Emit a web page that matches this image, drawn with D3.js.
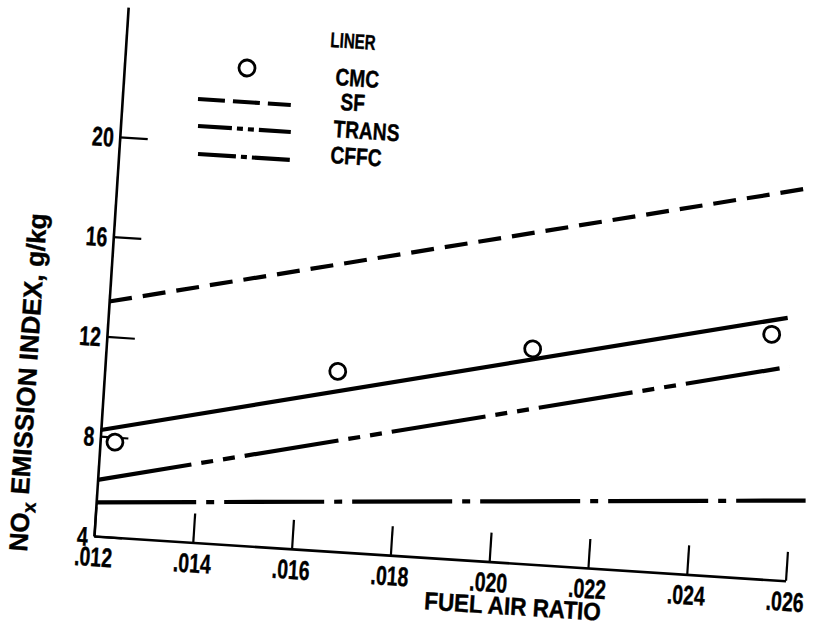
<!DOCTYPE html>
<html>
<head>
<meta charset="utf-8">
<script src="https://cdn.jsdelivr.net/npm/d3@7"></script>
<style>
  body { margin: 0; background: #fff; }
  svg text { font-family: "Liberation Sans", Arial, sans-serif; font-weight: bold; fill: #000; stroke: #000; stroke-width: 0.4; }
</style>
</head>
<body>
<svg id="chart" width="817" height="627"></svg>
<script>
// values
var xTicks = [0.012, 0.014, 0.016, 0.018, 0.020, 0.022, 0.024, 0.026];
var yTicks = [4, 8, 12, 16, 20];

// CMC liner points
var cmcX = [0.0123, 0.0167, 0.0206, 0.0254];
var cmcY = [7.8, 11.2, 12.6, 13.8];

// straight lines, two end points each
var fitX = [0.012, 0.0257];
var fitY = [8.25, 14.5];
var sfX = [0.012, 0.0259];
var sfY = [13.4, 19.7];
var transX = [0.012, 0.0258];
var transY = [6.25, 12.55];
var cffcX = [0.012, 0.0263];
var cffcY = [5.35, 7.25];

var legendNames = ["CMC", "SF", "TRANS", "CFFC"];

// layout - the scan is tilted a few degrees, so the whole plot is rotated about its corner
var ox = 94, oy = 536, ang = 3.7;
var plotW = 693;
var yTop = 25.2;            // axis line runs up to here
var plotH = (yTop - 4) * 25;

var svg = d3.select("#chart");
var g = svg.append("g")
  .attr("transform", "translate(" + ox + "," + oy + ") rotate(" + ang + ") translate(0," + (-plotH) + ")");

// screen point -> local plot coords (for placing text / legend)
function toLocal(X, Y) {
  var c = Math.cos(ang * Math.PI / 180), s = Math.sin(ang * Math.PI / 180);
  var dx = X - ox, dy = Y - oy;
  return [c * dx + s * dy, -s * dx + c * dy + plotH];
}

// narrow lettering like the original, squeezed horizontally
function addText(X, Y, txt, size, squeeze, anchor) {
  var p = toLocal(X, Y);
  return g.append("text")
    .attr("transform", "translate(" + p[0] + "," + p[1] + ") scale(" + squeeze + ",1)")
    .attr("text-anchor", anchor || "start")
    .attr("font-size", size)
    .text(txt);
}

var x = d3.scaleLinear().domain([0.012, 0.026]).range([0, plotW]);
var y = d3.scaleLinear().domain([4, yTop]).range([plotH, 0]);

// X axis
var xAxis = g.append("g")
  .attr("transform", "translate(0," + plotH + ")")
  .call(d3.axisBottom(x)
    .tickValues(xTicks)
    .tickSizeInner(-29)
    .tickSizeOuter(0)
    .tickPadding(11)
    .tickFormat(function (d) { return d3.format(".3f")(d).slice(1); }));

// Y axis
var yAxis = g.append("g")
  .call(d3.axisLeft(y)
    .tickValues(yTicks)
    .tickSizeInner(-28)
    .tickSizeOuter(0));

var tickSqueeze = 0.72;
g.selectAll(".domain").attr("stroke", "#000").attr("stroke-width", 2.6);
g.selectAll(".tick line").attr("stroke", "#000").attr("stroke-width", 2.2);
g.selectAll(".tick text").attr("font-size", 27).attr("fill", "#000")
  .attr("transform", "scale(" + tickSqueeze + ",1)");
yAxis.selectAll(".tick text").attr("x", -6 / tickSqueeze).attr("dy", "0.36em");

// lines
var line = d3.line().x(function (d) { return x(d[0]); }).y(function (d) { return y(d[1]); });

function drawLine(xs, ys, dash) {
  g.append("path")
    .datum(d3.zip(xs, ys))
    .attr("d", line)
    .attr("fill", "none")
    .attr("stroke", "#000")
    .attr("stroke-width", 4.2)
    .attr("stroke-dasharray", dash);
}

drawLine(sfX, sfY, "23,11");
drawLine(fitX, fitY, null);
drawLine(transX, transY, "95,10,12,10,12,10");
drawLine(cffcX, cffcY, "100,10,8,10");

// CMC circles
g.selectAll(".cmc")
  .data(d3.zip(cmcX, cmcY))
  .enter().append("circle")
  .attr("class", "cmc")
  .attr("cx", function (d) { return x(d[0]); })
  .attr("cy", function (d) { return y(d[1]); })
  .attr("r", 8)
  .attr("fill", "#fff")
  .attr("stroke", "#000")
  .attr("stroke-width", 2.8);

// axis titles
addText(512, 615, "FUEL AIR RATIO", 25, 0.9, "middle");

var yt = toLocal(38, 383);
var ytitle = g.append("text")
  .attr("transform", "translate(" + yt[0] + "," + yt[1] + ") rotate(-90)")
  .attr("text-anchor", "middle")
  .attr("font-size", 26);
ytitle.append("tspan").text("NO");
ytitle.append("tspan").attr("dy", "0.3em").attr("font-size", 19).text("x");
ytitle.append("tspan").attr("dy", "-0.3em").text(" EMISSION INDEX, g/kg");

// legend
addText(330, 47, "LINER", 21, 0.72);

var lc = toLocal(247, 68);
g.append("circle").attr("cx", lc[0]).attr("cy", lc[1]).attr("r", 8)
  .attr("fill", "#fff").attr("stroke", "#000").attr("stroke-width", 2.8);

var legDash = [null, "27,8", "34,5,6,5,6,5", "38,5,6,5"];
var legRowY = [85, 110, 137, 163];
var legTextX = [335, 340, 333, 330];
var legLineY = [0, 99, 126, 154];

legendNames.forEach(function (name, i) {
  addText(legTextX[i], legRowY[i], name, 24, 0.8);
  if (i > 0) {
    var a = toLocal(198, legLineY[i]);
    g.append("line")
      .attr("x1", a[0]).attr("y1", a[1])
      .attr("x2", a[0] + 93).attr("y2", a[1])
      .attr("stroke", "#000")
      .attr("stroke-width", 4.2)
      .attr("stroke-dasharray", legDash[i]);
  }
});
</script>
</body>
</html>
